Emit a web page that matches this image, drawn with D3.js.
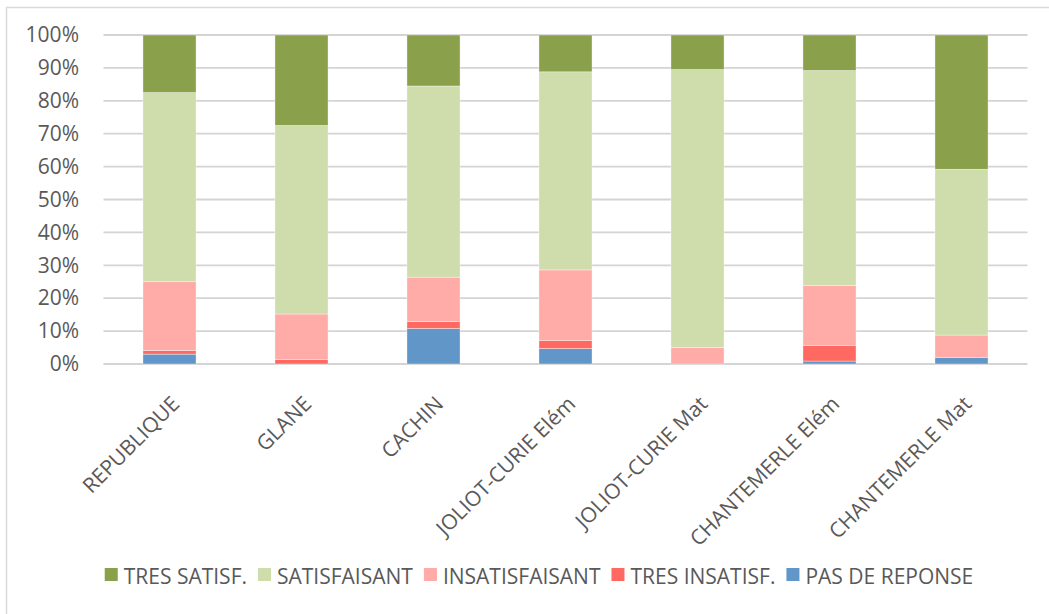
<!DOCTYPE html>
<html>
<head>
<meta charset="utf-8">
<script src="https://cdn.jsdelivr.net/npm/d3@7"></script>
<style>
  html, body { margin: 0; padding: 0; background: #fff; }
  svg { display: block; }
  text { font-family: "Open Sans", sans-serif; fill: #595959; }
</style>
</head>
<body>
<svg id="chart" width="1049" height="614"></svg>
<script>
const categories = ["REPUBLIQUE", "GLANE", "CACHIN", "JOLIOT-CURIE Elém", "JOLIOT-CURIE Mat", "CHANTEMERLE Elém", "CHANTEMERLE Mat"];
const seriesNames = ["PAS DE REPONSE", "TRES INSATISF.", "INSATISFAISANT", "SATISFAISANT", "TRES SATISF."];
const pasDeReponse  = [3.0, 0.0, 10.8, 4.7, 0.0, 0.9, 2.0];
const tresInsatisf  = [1.1, 1.4, 2.1, 2.5, 0.0, 4.8, 0.0];
const insatisfaisant = [20.9, 13.8, 13.5, 21.4, 5.0, 18.2, 6.8];
const satisfaisant  = [57.5, 57.3, 58.1, 60.2, 84.5, 65.3, 50.4];
const tresSatisf    = [17.5, 27.5, 15.5, 11.2, 10.5, 10.8, 40.8];
const yTicks = [0, 10, 20, 30, 40, 50, 60, 70, 80, 90, 100];
const legendOrder = ["TRES SATISF.", "SATISFAISANT", "INSATISFAISANT", "TRES INSATISF.", "PAS DE REPONSE"];
const colors = {
  "PAS DE REPONSE": "#6096c8",
  "TRES INSATISF.": "#ff6961",
  "INSATISFAISANT": "#ffaba7",
  "SATISFAISANT": "#cfdcab",
  "TRES SATISF.": "#8aa04b"
};

const seriesValues = [pasDeReponse, tresInsatisf, insatisfaisant, satisfaisant, tresSatisf];
const rows = categories.map((c, i) => {
  const r = { cat: c };
  seriesNames.forEach((s, j) => r[s] = seriesValues[j][i]);
  return r;
});

const FS = "21px";
const svg = d3.select("#chart");

// chart border
svg.append("rect")
  .attr("x", 6.5).attr("y", 7.5)
  .attr("width", 1200).attr("height", 800)
  .attr("fill", "none").attr("stroke", "#d9d9d9").attr("stroke-width", 1.5);

const plotLeft = 103.5, plotRight = 1027.5, plotTop = 35, plotBottom = 364;

const x = d3.scaleBand().domain(categories).range([plotLeft, plotRight])
  .paddingInner(0.598).paddingOuter(0.299);
const y = d3.scaleLinear().domain([0, 100]).range([plotBottom, plotTop]);

// gridlines
svg.append("g").selectAll("line").data(yTicks).join("line")
  .attr("x1", plotLeft).attr("x2", plotRight)
  .attr("y1", d => y(d)).attr("y2", d => y(d))
  .attr("stroke", "#d4d4d4").attr("stroke-width", 1.8);

// y axis labels
const yAxis = d3.axisLeft(y).tickValues(yTicks).tickFormat(d => d + "%").tickSize(0).tickPadding(0);
const yg = svg.append("g").attr("transform", `translate(79,0)`).call(yAxis);
yg.select(".domain").remove();
yg.selectAll("text").style("font-size", FS).style("font-family", "'Open Sans', sans-serif").attr("fill", "#595959");

// stacked bars
const stack = d3.stack().keys(seriesNames);
const stacked = stack(rows);
svg.append("g").selectAll("g").data(stacked).join("g")
  .attr("fill", d => colors[d.key])
  .selectAll("rect").data(d => d).join("rect")
  .attr("x", d => x(d.data.cat))
  .attr("width", x.bandwidth())
  .attr("y", d => y(d[1]))
  .attr("height", d => Math.max(0, y(d[0]) - y(d[1])))
  .attr("stroke", "#ffffff").attr("stroke-width", 0.6).attr("stroke-opacity", 0.6);

// x axis labels
const xAxis = d3.axisBottom(x).tickSize(0).tickPadding(0);
const xg = svg.append("g").attr("transform", `translate(0,${plotBottom})`).call(xAxis);
xg.select(".domain").remove();
xg.selectAll("text")
  .style("font-size", FS).style("font-family", "'Open Sans', sans-serif").attr("fill", "#595959")
  .attr("text-anchor", "end")
  .attr("dy", "0.35em")
  .attr("y", 0)
  .attr("transform", "translate(6,36) rotate(-45)");

// legend
const lg = svg.append("g");
const items = lg.selectAll("g").data(legendOrder).join("g");
items.append("rect").attr("width", 13).attr("height", 13).attr("y", -12)
  .attr("fill", d => colors[d]);
items.append("text").attr("x", 19).attr("y", 0).attr("dy", "0.2em")
  .style("font-size", FS).text(d => d);
const widths = [];
items.each(function () {
  const w = 19 + this.querySelector("text").getComputedTextLength();
  widths.push(w);
});
const gap = 11;
const total = d3.sum(widths) + gap * (widths.length - 1);
let start = 539 - total / 2;
items.attr("transform", (d, i) => {
  const t = `translate(${start},${580})`;
  start += widths[i] + gap;
  return t;
});
</script>
</body>
</html>
